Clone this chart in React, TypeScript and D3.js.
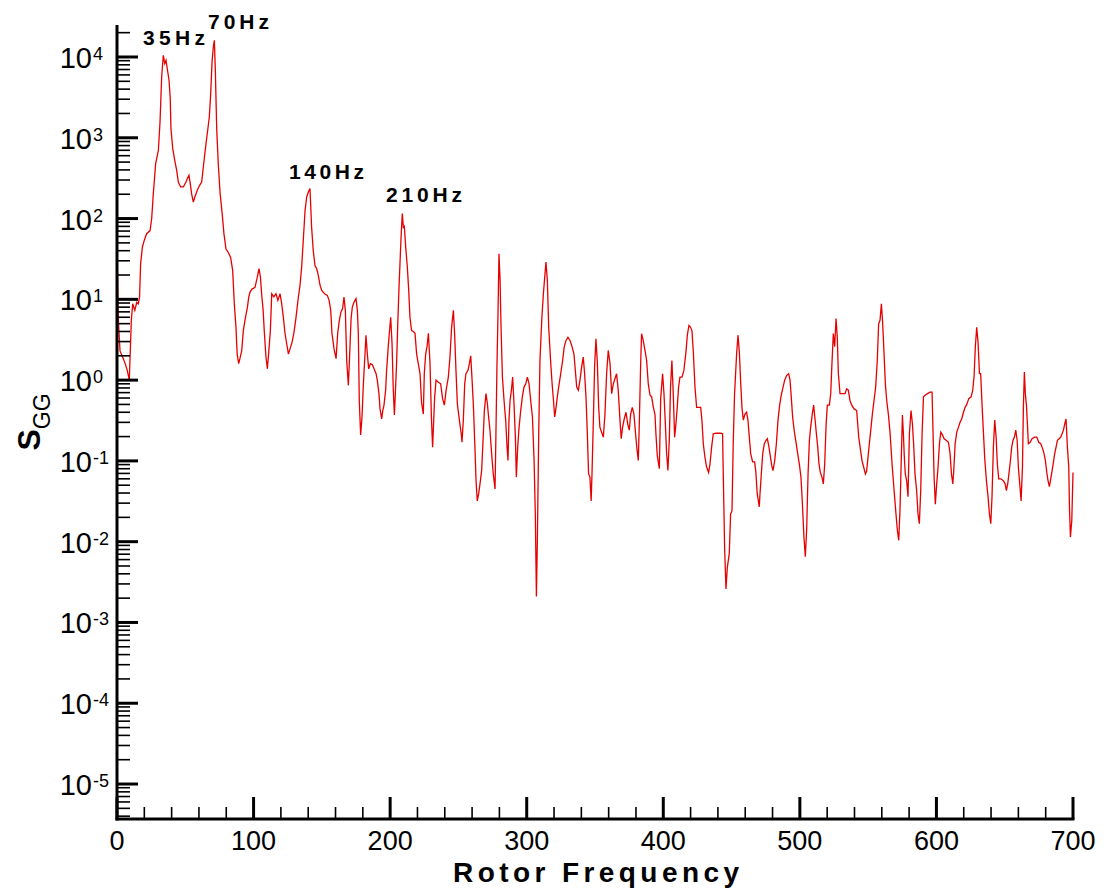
import React from "react";
import * as d3 from "d3";

const freq: number[] = [
  0, 1, 2.2, 4.6, 6, 7.5, 9, 10.5, 11.5, 13, 14.5, 15.6, 16.5, 17.3, 18.6, 20, 21.7, 24.2, 25.4, 26.6,
  28.3, 30.3, 31.5, 32.7, 33.9, 35, 35.9, 37, 38.1, 39, 39.5, 40.8, 42.5, 43.7, 44.9, 46.6, 48.6, 50.5, 51.5, 52.7,
  53.5, 54.6, 55.9, 57, 58.8, 60.5, 62, 63.5, 64.9, 66.4, 67.6, 68.6, 69.6, 70.5, 71.3, 72, 73, 74.2, 75.5, 76.9,
  78.3, 79.8, 81.5, 83.2, 84.7, 85.9, 87.1, 88, 89.1, 90, 91.3, 92.5, 93.7, 95.5, 96.5, 97.4, 99, 101, 102.5, 104,
  105, 105.9, 107, 107.9, 109, 110.1, 111, 112.3, 113.3, 114.8, 116.4, 117.8, 119.4, 120.6, 121.8, 123, 124.3, 125.5, 127.2, 128.3,
  129.6, 131, 132.8, 134, 135.2, 136.4, 137.7, 138.9, 140.1, 141.3, 142.5, 143.7, 145, 146.2, 147.4, 148.7, 149.9, 152, 154, 155.3,
  156.5, 157.4, 158.9, 160.4, 161.6, 162.8, 164, 165.2, 166.2, 167.2, 168.2, 169.4, 170.1, 171.4, 172.3, 173.5, 175, 176, 176.7, 177.4,
  178.4, 179.4, 180.4, 181.6, 182.3, 183.3, 184.3, 185.5, 187, 188.2, 189.7, 190.6, 191.8, 192.6, 193.8, 194.6, 195.5, 196.7, 197.4, 198.7,
  199.4, 200.4, 201.4, 202.3, 203.1, 203.8, 204.8, 205.5, 206.5, 208, 208.9, 209.7, 210.4, 211.4, 212.6, 213.6, 214.5, 215.7, 217, 218.2,
  219.4, 220.6, 221.9, 223, 224.3, 225, 226, 227, 228, 229.2, 230.2, 231.1, 231.6, 232.6, 233.6, 235.3, 237, 238.4, 239.7, 241,
  242.6, 243.8, 245, 246.3, 247.2, 248.2, 249.2, 250.7, 252, 252.6, 253.6, 254.6, 255.5, 257, 258, 259, 260, 260.9, 261.9, 262.9,
  263.8, 264.8, 265.8, 267, 267.8, 269, 270.2, 271.2, 272.1, 273.1, 274.3, 275.5, 276.8, 277.5, 278.2, 279, 279.7, 280.5, 281.2, 282.2,
  283.4, 284.6, 285.6, 286.3, 287, 287.8, 288.8, 289.7, 290.7, 291.7, 292.4, 293.4, 294.4, 295.6, 296.8, 298, 299.3, 300.5, 301.7, 302.9,
  304.2, 305.4, 306.3, 307.1, 307.8, 308.8, 309.7, 311, 312.2, 313.4, 314.1, 315.1, 316.1, 317.6, 318.6, 319.6, 320.5, 321.5, 322.4, 323.4,
  324.9, 326.3, 327.5, 328.8, 330.2, 331.7, 333.2, 334.6, 335.6, 336.6, 337.8, 339, 340.2, 341.4, 342.4, 343.4, 344.3, 345.3, 346.3, 347.2,
  347.8, 348.8, 349.7, 350.7, 351.7, 352.7, 353.6, 354.8, 356.1, 357.3, 358.5, 359.7, 361, 362.2, 363.4, 364.6, 365.8, 367, 368.3, 369.2,
  370.2, 371.4, 372.7, 373.9, 375.1, 376.1, 377.3, 378.5, 379.7, 380.7, 381.7, 382.5, 383.4, 384.1, 385.3, 386.6, 387.8, 389, 390.3, 391.5,
  392.7, 393.9, 394.6, 395.6, 397.1, 398.1, 399.5, 400.5, 401.5, 402.4, 403.4, 404.4, 405.3, 406.3, 407.3, 408.3, 409.3, 410.2, 411.2, 412.2,
  413.7, 415.1, 416.6, 417.6, 418.8, 420, 421, 422, 423.2, 424.4, 425.9, 427.4, 428.3, 429.3, 430.5, 431.7, 433.2, 434.2, 435.4, 436.6,
  438.6, 440.3, 442, 443.4, 443.9, 444.9, 445.9, 446.9, 448.3, 449.3, 450.3, 451.2, 452.2, 453.7, 454.7, 455.7, 456.6, 457.6, 458.6, 459.8,
  461, 462, 463, 464, 465.4, 466.9, 467.8, 468.8, 470.3, 470.8, 471.8, 472.8, 474, 475.2, 476.2, 477.2, 478.1, 479.4, 480.3, 481.6,
  482.8, 484, 485.2, 486.4, 487.7, 488.9, 490.3, 491.8, 492.8, 493.8, 494.7, 496, 497.2, 498.4, 499.6, 500.8, 501.8, 503, 504, 505,
  506, 507, 507.9, 509.1, 510.1, 511.1, 512.1, 513.1, 514, 515, 516.2, 517.2, 518.2, 519.2, 520.1, 521.6, 522.6, 523.5, 524.5, 525.5,
  526.5, 527.4, 528.2, 529.4, 531.4, 533.1, 534.3, 535.5, 536.7, 538, 539.7, 541.6, 543.1, 544.3, 545.5, 546.7, 548, 548.9, 550.4, 551.9,
  553.1, 554.3, 555.5, 556.7, 557.7, 558.7, 559.7, 560.6, 561.6, 562.6, 563.6, 564.8, 566, 567.5, 569, 570.2, 571.4, 572.4, 573.3, 574.3,
  575.1, 575.8, 576.5, 577.2, 578.2, 579.2, 580.2, 581.4, 582.4, 583.3, 584.3, 585.5, 586.5, 587.5, 588.5, 589.5, 590.5, 591.7, 593.4, 595.3,
  596.8, 597.3, 598.3, 599.2, 600.2, 601.2, 602.2, 603.2, 604.4, 605.6, 607.1, 608.8, 610, 611, 612, 612.7, 613.7, 614.9, 616.1, 617.3,
  618.5, 619.8, 621, 622.2, 623.7, 625.4, 626.6, 627.6, 628.5, 629.5, 630.5, 631.5, 632.4, 633.4, 634.4, 635.4, 636.6, 637.8, 638.8, 639.8,
  640.7, 641.7, 642.7, 643.7, 644.6, 645.6, 647.1, 649, 650.3, 651.2, 652.2, 653.2, 654.2, 655.1, 656.1, 657.1, 658.1, 659.1, 660, 661,
  662, 663, 663.7, 664.4, 665.1, 665.9, 666.6, 667.3, 668.6, 670, 671.7, 673.5, 674.9, 676.4, 677.8, 678.8, 679.8, 680.8, 681.7, 682.7,
  683.7, 684.7, 685.7, 686.6, 687.6, 688.6, 689.8, 691, 692, 693, 694, 694.9, 695.9, 696.9, 697.4, 698.1, 699.1, 700,
];

const sgg: number[] = [
  40, 5.5, 2.3, 1.84, 1.6, 1.32, 1.0, 5.5, 8.8, 7.3, 9.2, 8.8, 10.7, 27.6, 44.5, 54, 65, 71, 100, 204,
  480, 700, 1570, 5650, 10500, 8300, 9100, 6800, 5150, 3050, 1300, 733, 500, 395, 283, 246, 246, 283, 312, 343,
  283, 204, 160, 185, 224, 258, 283, 480, 770, 1240, 1810, 3520, 8700, 13300, 16100, 6850, 1300, 457, 204, 120,
  65, 42, 38, 33, 22.8, 8.8, 4.5, 2.1, 1.6, 1.84, 2.3, 4.1, 5.5, 8.0, 10.7, 12.3, 13.5, 14, 18, 24,
  18.9, 11.7, 7.3, 3.9, 2.0, 1.38, 2.1, 4.1, 11.7, 10.7, 11.7, 9.7, 11.7, 8.8, 6.0, 3.8, 2.8, 2.1, 2.6, 3.0,
  3.9, 5.8, 10.7, 14.9, 25, 54, 126, 185, 213, 236, 78, 40, 26, 24, 19.8, 14.9, 12.9, 11.7, 11.2, 9.7,
  7.3, 3.8, 2.45, 1.84, 3.8, 5.5, 7.0, 7.7, 10.7, 7.3, 1.75, 0.86, 1.6, 5.8, 8.0, 9.2, 10.2, 7.3, 3.8, 0.56,
  0.21, 0.35, 0.9, 2.1, 3.6, 2.1, 1.38, 1.6, 1.55, 1.38, 1.2, 1.0, 0.68, 0.44, 0.33, 0.42, 0.49, 0.75, 1.32, 2.7,
  3.8, 6.0, 2.8, 0.75, 0.37, 0.68, 1.75, 4.5, 14.2, 59, 115, 78, 80, 44, 25, 12.9, 6.0, 4.1, 4.0, 3.8,
  2.1, 1.6, 1.2, 0.53, 0.38, 1.2, 2.1, 2.6, 3.8, 1.6, 0.35, 0.148, 0.24, 0.62, 1.0, 0.94, 0.9, 0.59, 0.49, 0.75,
  1.09, 1.93, 4.5, 7.3, 3.8, 1.32, 0.51, 0.32, 0.22, 0.17, 0.32, 0.9, 1.2, 1.32, 1.6, 2.0, 1.0, 0.51, 0.18, 0.057,
  0.032, 0.039, 0.052, 0.076, 0.148, 0.42, 0.68, 0.51, 0.35, 0.24, 0.123, 0.069, 0.045, 0.24, 1.45, 7.0, 36.7, 17.2, 4.5, 1.09,
  0.56, 0.32, 0.148, 0.101, 0.32, 0.56, 0.75, 1.09, 0.51, 0.197, 0.063, 0.148, 0.26, 0.42, 0.62, 0.82, 0.9, 1.09, 0.9, 0.56,
  0.35, 0.101, 0.022, 0.0021, 0.0104, 0.22, 1.75, 5.5, 11.7, 20.8, 29, 17.2, 4.5, 1.6, 0.9, 0.56, 0.35, 0.46, 0.62, 0.82,
  1.2, 1.75, 2.6, 3.1, 3.4, 3.1, 2.6, 2.1, 1.32, 0.82, 0.75, 1.0, 1.45, 1.93, 1.2, 0.62, 0.24, 0.069, 0.063, 0.032,
  0.069, 0.32, 1.45, 3.25, 1.67, 0.46, 0.26, 0.227, 0.197, 0.38, 1.2, 2.33, 1.6, 0.68, 0.9, 1.04, 1.2, 0.75, 0.32, 0.188,
  0.26, 0.33, 0.4, 0.29, 0.24, 0.38, 0.46, 0.38, 0.217, 0.141, 0.101, 0.32, 1.52, 3.76, 3.1, 2.33, 1.75, 0.9, 0.65, 0.62,
  0.46, 0.38, 0.217, 0.117, 0.08, 0.59, 1.2, 0.68, 0.29, 0.128, 0.076, 0.18, 0.82, 1.75, 0.68, 0.197, 0.29, 0.46, 0.82, 1.09,
  1.09, 1.32, 2.22, 3.6, 4.75, 4.5, 4.1, 2.22, 0.82, 0.46, 0.46, 0.46, 0.32, 0.163, 0.111, 0.084, 0.072, 0.092, 0.148, 0.217,
  0.22, 0.22, 0.22, 0.217, 0.072, 0.0086, 0.0026, 0.0048, 0.0071, 0.022, 0.024, 0.163, 0.68, 2.12, 3.6, 2.22, 1.0, 0.46, 0.32, 0.38,
  0.4, 0.32, 0.197, 0.123, 0.097, 0.097, 0.072, 0.039, 0.027, 0.039, 0.069, 0.123, 0.163, 0.18, 0.188, 0.155, 0.123, 0.088, 0.076, 0.101,
  0.163, 0.32, 0.49, 0.65, 0.82, 1.0, 1.14, 1.2, 1.0, 0.59, 0.35, 0.227, 0.17, 0.123, 0.092, 0.063, 0.031, 0.0114, 0.0065, 0.0144,
  0.069, 0.18, 0.26, 0.38, 0.49, 0.33, 0.217, 0.148, 0.092, 0.072, 0.063, 0.052, 0.092, 0.275, 0.49, 0.49, 0.68, 1.6, 3.76, 2.6,
  5.8, 3.4, 1.2, 0.68, 0.68, 0.68, 0.78, 0.75, 0.56, 0.49, 0.44, 0.42, 0.197, 0.141, 0.101, 0.084, 0.069, 0.075, 0.135, 0.24,
  0.38, 0.56, 0.82, 1.75, 5.0, 5.5, 8.8, 5.2, 2.22, 0.9, 0.56, 0.38, 0.227, 0.092, 0.043, 0.024, 0.0138, 0.0104, 0.024, 0.111,
  0.37, 0.217, 0.111, 0.069, 0.057, 0.036, 0.217, 0.42, 0.29, 0.163, 0.069, 0.043, 0.022, 0.0167, 0.043, 0.217, 0.62, 0.65, 0.68, 0.71,
  0.71, 0.32, 0.063, 0.029, 0.052, 0.084, 0.163, 0.227, 0.21, 0.188, 0.18, 0.17, 0.123, 0.069, 0.052, 0.076, 0.163, 0.227, 0.26, 0.3,
  0.33, 0.4, 0.46, 0.5, 0.59, 0.62, 0.75, 1.14, 2.6, 4.5, 2.9, 1.2, 1.2, 0.5, 0.227, 0.106, 0.057, 0.036, 0.022, 0.0167,
  0.036, 0.148, 0.32, 0.197, 0.092, 0.06, 0.06, 0.057, 0.052, 0.043, 0.052, 0.072, 0.101, 0.148, 0.18, 0.197, 0.24, 0.18, 0.084, 0.052,
  0.032, 0.084, 0.49, 1.26, 0.68, 0.49, 0.29, 0.163, 0.17, 0.188, 0.197, 0.197, 0.17, 0.163, 0.141, 0.123, 0.101, 0.072, 0.057, 0.048,
  0.06, 0.076, 0.097, 0.123, 0.148, 0.18, 0.188, 0.197, 0.217, 0.24, 0.29, 0.33, 0.148, 0.084, 0.027, 0.0114, 0.018, 0.072,
];

const peakLabels: string[] = ["35Hz", "70Hz", "140Hz", "210Hz"];
const xTickValues: number[] = [0, 100, 200, 300, 400, 500, 600, 700];
const yDecades: number[] = [-5, -4, -3, -2, -1, 0, 1, 2, 3, 4];

const W = 1104;
const H = 896;
const X0 = 117;
const X1 = 1073;
const YTOP = 25;
const YBOT = 819;
const FONT = "'Liberation Sans', Arial, Helvetica, sans-serif";
const RED = "#e60000";

export default function App() {
  const x = d3.scaleLinear().domain([0, 700]).range([X0, X1]);
  const y = d3.scaleLog().domain([Math.pow(10, -5.433), Math.pow(10, 4.396)]).range([YBOT, YTOP]);

  const pts: [number, number][] = freq.map((f, i) => [f, sgg[i]]);
  const line = d3
    .line<[number, number]>()
    .x((d) => x(d[0]))
    .y((d) => y(d[1]));

  const [ylo, yhi] = y.domain();
  const minorY: number[] = [];
  for (let k = -6; k <= 4; k++) {
    for (let m = 2; m <= 9; m++) {
      const v = m * Math.pow(10, k);
      if (v > ylo && v < yhi) minorY.push(v);
    }
  }
  const minorX: number[] = d3.range(0, 701, 20).filter((v) => v % 100 !== 0);

  const labelAt: { left: number; base: number; w: number }[] = [
    { left: 143, base: 45, w: 62 },
    { left: 208, base: 29, w: 61 },
    { left: 289, base: 179, w: 75 },
    { left: 386, base: 202, w: 76 },
  ];

  return (
    <svg
      width={W}
      height={H}
      style={{ position: "absolute", left: 0, top: 0, background: "#fff" }}
      fontFamily={FONT}
    >
      <rect x={0} y={0} width={W} height={H} fill="#fff" />
      <defs>
        <clipPath id="plotclip">
          <rect x={X0} y={YTOP - 10} width={X1 - X0 + 2} height={YBOT - YTOP + 10} />
        </clipPath>
      </defs>

      {/* data line */}
      <path
        d={line(pts) || ""}
        fill="none"
        stroke={RED}
        strokeWidth={1.3}
        strokeLinejoin="miter"
        clipPath="url(#plotclip)"
      />

      {/* y minor ticks */}
      {minorY.map((v, i) => (
        <line key={"my" + i} x1={X0} x2={X0 + 13} y1={y(v)} y2={y(v)} stroke="#000" strokeWidth={1.6} />
      ))}
      {/* y major ticks + labels */}
      {yDecades.map((k) => {
        const yy = y(Math.pow(10, k));
        return (
          <g key={"Y" + k}>
            <line x1={X0} x2={X0 + 21} y1={yy} y2={yy} stroke="#000" strokeWidth={3} />
            <text x={92} y={yy + 11} textAnchor="end" fontSize={29} fill="#000">
              10
            </text>
            <text x={93} y={yy + 3} textAnchor="start" fontSize={18} fill="#000">
              {String(k)}
            </text>
          </g>
        );
      })}

      {/* x minor ticks */}
      {minorX.map((v) => (
        <line key={"mx" + v} x1={x(v)} x2={x(v)} y1={YBOT} y2={YBOT - 12} stroke="#000" strokeWidth={1.6} />
      ))}
      {xTickValues.map((v) => (
        <g key={"X" + v}>
          <line x1={x(v)} x2={x(v)} y1={YBOT} y2={YBOT - 22} stroke="#000" strokeWidth={3} />
          <text x={x(v)} y={850} textAnchor="middle" fontSize={27} fill="#000">
            {String(v)}
          </text>
        </g>
      ))}

      {/* axes */}
      <line x1={X0} x2={X0} y1={YTOP} y2={YBOT + 1.5} stroke="#000" strokeWidth={3} />
      <line x1={X0 - 1.5} x2={X1 + 1.5} y1={YBOT} y2={YBOT} stroke="#000" strokeWidth={3} />

      {/* peak labels */}
      {peakLabels.map((t, i) => (
        <text
          key={t}
          x={labelAt[i].left}
          y={labelAt[i].base}
          fontSize={21}
          fontWeight="bold"
          fill="#000"
          textLength={labelAt[i].w}
          lengthAdjust="spacing"
        >
          {t}
        </text>
      ))}

      {/* axis titles */}
      <text
        x={453}
        y={882}
        fontSize={28}
        fontWeight="bold"
        fill="#000"
        textLength={286}
        lengthAdjust="spacing"
      >
        Rotor Frequency
      </text>
      <text transform="translate(40,422) rotate(-90)" textAnchor="middle" fill="#000">
        <tspan fontSize={32} fontWeight="bold">S</tspan>
        <tspan fontSize={23} dy={10}>GG</tspan>
      </text>
    </svg>
  );
}
